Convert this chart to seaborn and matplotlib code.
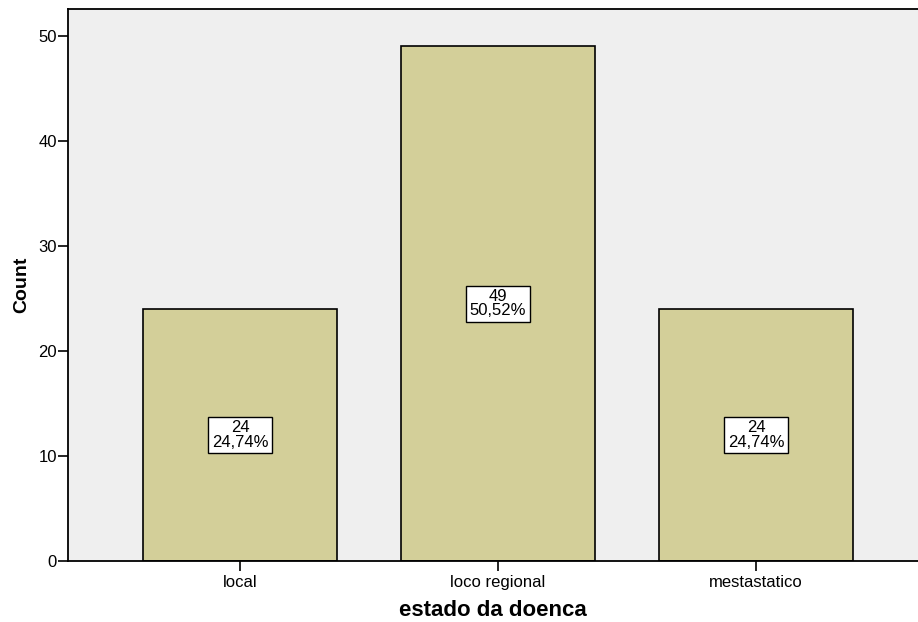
import matplotlib
matplotlib.use("Agg")
import matplotlib.pyplot as plt
import seaborn as sns
import pandas as pd

categories = ["local", "loco regional", "mestastatico"]
counts = [24, 49, 24]
y_ticks = [0, 10, 20, 30, 40, 50]

sns.set_theme(style="white")
plt.rcParams["font.family"] = ["Liberation Sans", "DejaVu Sans"]
plt.rcParams["text.color"] = "black"
plt.rcParams["axes.labelcolor"] = "black"
plt.rcParams["xtick.color"] = "black"
plt.rcParams["ytick.color"] = "black"

df = pd.DataFrame({"estado": categories, "count": counts})
total = sum(counts)

fig = plt.figure(figsize=(9.18, 6.22), dpi=100)
ax = fig.add_axes([68 / 918, 61 / 622, 850 / 918, 552 / 622])
ax.set_facecolor("#efefef")

sns.barplot(data=df, x="estado", y="count", ax=ax, color="#d3cf99",
            edgecolor="black", linewidth=1.2, width=0.752, saturation=1)

# count and percentage label in a white box at the middle of each bar
for i, c in enumerate(counts):
    pct = f"{c / total * 100:.2f}".replace(".", ",")
    ax.text(i, c / 2, f"{c}\n{pct}%", ha="center", va="center",
            fontsize=12, color="black", linespacing=0.92,
            bbox=dict(boxstyle="square,pad=0.2", facecolor="white",
                      edgecolor="black", linewidth=1.0))

ax.set_xlim(-0.667, 2.628)
ax.set_ylim(0, 52.57)
ax.set_yticks(y_ticks)
ax.set_yticklabels([str(v) for v in y_ticks])

for side in ["left", "bottom", "top"]:
    ax.spines[side].set_visible(True)
    ax.spines[side].set_color("black")
    ax.spines[side].set_linewidth(1.3)
ax.spines["right"].set_visible(False)

ax.tick_params(axis="y", which="major", direction="out", length=7, width=1.2,
               color="black", labelcolor="black", labelsize=12, pad=1,
               left=True)
ax.tick_params(axis="x", which="major", direction="out", length=7, width=1.2,
               color="black", labelcolor="black", labelsize=12, pad=3,
               bottom=True)

ax.set_ylabel("Count", fontsize=14, fontweight="bold", labelpad=6)
ax.set_xlabel("estado da doenca", fontsize=16, fontweight="bold", labelpad=7)

fig.savefig("out.png", dpi=100)
